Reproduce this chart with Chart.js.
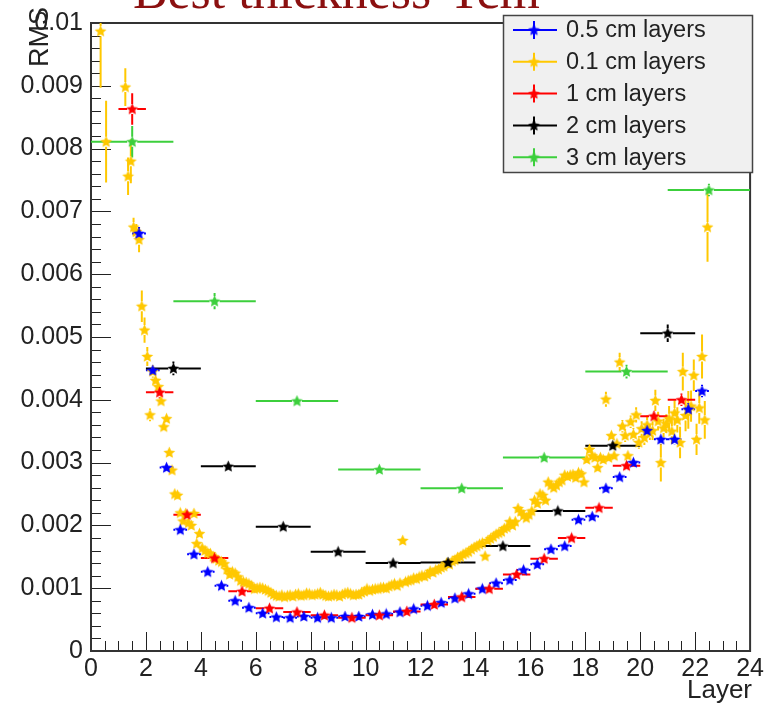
<!DOCTYPE html>
<html>
<head>
<meta charset="utf-8">
<script src="https://cdn.jsdelivr.net/npm/chart.js@4.4.0/dist/chart.umd.min.js"></script>
<style>
  body { margin: 0; background: #fff; }
</style>
</head>
<body>
<canvas id="chart" width="767" height="706"></canvas>
<script>
// RMS per layer, one graph per layer thickness (x = depth in cm)
const seriesNames = ['0.5 cm layers', '0.1 cm layers', '1 cm layers', '2 cm layers', '3 cm layers']
const seriesColors = ['#0000ff', '#ffc800', '#ff0000', '#000000', '#3ccf3c']
const layerHalfWidth = [0.25, 0.05, 0.5, 1, 1.5]

const blueX = [1.75, 2.25, 2.75, 3.25, 3.75, 4.25, 4.75, 5.25, 5.75, 6.25,
  6.75, 7.25, 7.75, 8.25, 8.75, 9.25, 9.75, 10.25, 10.75, 11.25,
  11.75, 12.25, 12.75, 13.25, 13.75, 14.25, 14.75, 15.25, 15.75, 16.25,
  16.75, 17.25, 17.75, 18.25, 18.75, 19.25, 19.75, 20.25, 20.75, 21.25,
  21.75, 22.25]
const blueY = [0.00665, 0.00447, 0.00292, 0.00193, 0.00154, 0.00126, 0.00104, 0.00080, 0.00069, 0.00060,
  0.00054, 0.00053, 0.00055, 0.00053, 0.00053, 0.00055, 0.00055, 0.00058, 0.00059, 0.00062,
  0.00067, 0.00072, 0.00077, 0.00084, 0.00091, 0.00099, 0.00108, 0.00113, 0.00129, 0.00138,
  0.00162, 0.00167, 0.00209, 0.00214, 0.00259, 0.00277, 0.00300, 0.00351, 0.00337, 0.00337,
  0.00385, 0.00414]
const blueErr = [0.0001, 0.00006, 0.00004, 0.00003, 0.00003, 0.00002, 0.00002, 0.00002, 0.00002, 0.00002,
  0.00002, 0.00002, 0.00002, 0.00002, 0.00002, 0.00002, 0.00002, 0.00002, 0.00002, 0.00002,
  0.00002, 0.00002, 0.00002, 0.00002, 0.00002, 0.00002, 0.00002, 0.00003, 0.00003, 0.00003,
  0.00003, 0.00003, 0.00004, 0.00004, 0.00005, 0.00005, 0.00006, 0.00008, 0.00008, 0.00008,
  0.0001, 0.0001]

const yellowX = [0.35, 0.55,
  1.25, 1.35, 1.45, 1.55, 1.65, 1.75, 1.85, 1.95, 2.05, 2.15,
  2.25, 2.35, 2.45, 2.55, 2.65, 2.75, 2.85, 2.95, 3.05, 3.15,
  3.25, 3.35, 3.45, 3.55, 3.65, 3.75, 3.85, 3.95, 4.05, 4.15,
  4.25, 4.35, 4.45, 4.55, 4.65, 4.75, 4.85, 4.95, 5.05, 5.15,
  5.25, 5.35, 5.45, 5.55, 5.65, 5.75, 5.85, 5.95, 6.05, 6.15,
  6.25, 6.35, 6.45, 6.55, 6.65, 6.75, 6.85, 6.95, 7.05, 7.15,
  7.25, 7.35, 7.45, 7.55, 7.65, 7.75, 7.85, 7.95, 8.05, 8.15,
  8.25, 8.35, 8.45, 8.55, 8.65, 8.75, 8.85, 8.95, 9.05, 9.15,
  9.25, 9.35, 9.45, 9.55, 9.65, 9.75, 9.85, 9.95, 10.05, 10.15,
  10.25, 10.35, 10.45, 10.55, 10.65, 10.75, 10.85, 10.95, 11.05, 11.15,
  11.25, 11.35, 11.45, 11.55, 11.65, 11.75, 11.85, 11.95, 12.05, 12.15,
  12.25, 12.35, 12.45, 12.55, 12.65, 12.75, 12.85, 12.95, 13.05, 13.15,
  13.25, 13.35, 13.45, 13.55, 13.65, 13.75, 13.85, 13.95, 14.05, 14.15,
  14.25, 14.35, 14.45, 14.55, 14.65, 14.75, 14.85, 14.95, 15.05, 15.15,
  15.25, 15.35, 15.45, 15.55, 15.65, 15.75, 15.85, 15.95, 16.05, 16.15,
  16.25, 16.35, 16.45, 16.55, 16.65, 16.75, 16.85, 16.95, 17.05, 17.15,
  17.25, 17.35, 17.45, 17.55, 17.65, 17.75, 17.85, 17.95, 18.05, 18.15,
  18.25, 18.35, 18.45, 18.55, 18.65, 18.75, 18.85, 18.95, 19.05, 19.15,
  19.25, 19.35, 19.45, 19.55, 19.65, 19.75, 19.85, 19.95, 20.05, 20.15,
  20.25, 20.35, 20.45, 20.55, 20.65, 20.75, 20.85, 20.95, 21.05, 21.15,
  21.25, 21.35, 21.45, 21.55, 21.65, 21.75, 21.85, 21.95, 22.05, 22.15,
  22.25, 22.35, 22.45]
const yellowY = [0.00987, 0.00811,
  0.00898, 0.00756, 0.00780, 0.00675, 0.00668, 0.00655, 0.00549, 0.00511, 0.00469, 0.00376,
  0.00445, 0.00431, 0.00421, 0.00398, 0.00357, 0.00370, 0.00316, 0.00288, 0.00250, 0.00248,
  0.00220, 0.00207, 0.00219, 0.00204, 0.00200, 0.00219, 0.00171, 0.00187, 0.00164, 0.00160,
  0.00156, 0.00155, 0.00150, 0.00147, 0.00144, 0.00142, 0.00139, 0.00130, 0.00122, 0.00126,
  0.00124, 0.00118, 0.00112, 0.00110, 0.00109, 0.00107, 0.00104, 0.00099, 0.00100, 0.00101,
  0.00100, 0.00098, 0.00096, 0.00093, 0.00090, 0.00088, 0.00087, 0.00089, 0.00086, 0.00088,
  0.00089, 0.00087, 0.00090, 0.00091, 0.00088, 0.00089, 0.00092, 0.00091, 0.00089, 0.00090,
  0.00091, 0.00093, 0.00090, 0.00088, 0.00087, 0.00088, 0.00090, 0.00089, 0.00087, 0.00090,
  0.00092, 0.00093, 0.00091, 0.00089, 0.00090, 0.00090, 0.00093, 0.00095, 0.00099, 0.00096,
  0.00098, 0.00099, 0.00099, 0.00101, 0.00101, 0.00100, 0.00103, 0.00105, 0.00107, 0.00104,
  0.00108, 0.00176, 0.00110, 0.00112, 0.00113, 0.00116, 0.00115, 0.00118, 0.00120, 0.00119,
  0.00122, 0.00127, 0.00125, 0.00129, 0.00130, 0.00133, 0.00135, 0.00140, 0.00138, 0.00143,
  0.00145, 0.00149, 0.00150, 0.00154, 0.00156, 0.00158, 0.00162, 0.00165, 0.00167, 0.00170,
  0.00172, 0.00151, 0.00176, 0.00179, 0.00182, 0.00186, 0.00188, 0.00190, 0.00195, 0.00197,
  0.00206, 0.00200, 0.00206, 0.00227, 0.00222, 0.00216, 0.00212, 0.00217, 0.00223, 0.00240,
  0.00235, 0.00250, 0.00248, 0.00240, 0.00269, 0.00264, 0.00260, 0.00264, 0.00269, 0.00272,
  0.00280, 0.00278, 0.00280, 0.00281, 0.00276, 0.00284, 0.00282, 0.00269, 0.00305, 0.00321,
  0.00311, 0.00308, 0.00292, 0.00308, 0.00305, 0.00401, 0.00308, 0.00343, 0.00311, 0.00330,
  0.00460, 0.00358, 0.00343, 0.00311, 0.00365, 0.00345, 0.00376, 0.00332, 0.00354, 0.00340,
  0.00360, 0.00348, 0.00351, 0.00399, 0.00366, 0.00300, 0.00355, 0.00362, 0.00370, 0.00350,
  0.00379, 0.00368, 0.00332, 0.00445, 0.00375, 0.00384, 0.00390, 0.00439, 0.00337, 0.00387,
  0.00469, 0.00368, 0.00675]
const yellowErr = [0.0009, 0.00065,
  0.0003, 0.0003, 0.00035, 0.00015, 0.00012, 0.0002, 0.00025, 0.0002, 0.00015, 0.0001,
  0.0001, 0.00008, 0.00008, 0.00008, 0.00006, 0.00006, 0.00005, 0.00005, 0.00004, 0.00004,
  0.00004, 0.00003, 0.00003, 0.00003, 0.00003, 0.00003, 0.00003, 0.00003, 0.00003, 0.00003,
  0.00002, 0.00002, 0.00002, 0.00002, 0.00002, 0.00002, 0.00002, 0.00002, 0.00002, 0.00002,
  0.00002, 0.00002, 0.00002, 0.00002, 0.00002, 0.00002, 0.00002, 0.00002, 0.00002, 0.00002,
  0.00002, 0.00002, 0.00002, 0.00002, 0.00002, 0.00002, 0.00002, 0.00002, 0.00002, 0.00002,
  0.00002, 0.00002, 0.00002, 0.00002, 0.00002, 0.00002, 0.00002, 0.00002, 0.00002, 0.00002,
  0.00002, 0.00002, 0.00002, 0.00002, 0.00002, 0.00002, 0.00002, 0.00002, 0.00002, 0.00002,
  0.00002, 0.00002, 0.00002, 0.00002, 0.00002, 0.00002, 0.00002, 0.00002, 0.00002, 0.00002,
  0.00002, 0.00002, 0.00002, 0.00002, 0.00002, 0.00002, 0.00002, 0.00002, 0.00002, 0.00002,
  0.00002, 0.00004, 0.00002, 0.00002, 0.00002, 0.00002, 0.00002, 0.00002, 0.00002, 0.00002,
  0.00002, 0.00002, 0.00002, 0.00002, 0.00002, 0.00002, 0.00002, 0.00002, 0.00002, 0.00002,
  0.00002, 0.00002, 0.00002, 0.00002, 0.00002, 0.00002, 0.00002, 0.00002, 0.00002, 0.00002,
  0.00002, 0.00003, 0.00002, 0.00002, 0.00002, 0.00002, 0.00002, 0.00002, 0.00002, 0.00002,
  0.00002, 0.00002, 0.00002, 0.00002, 0.00002, 0.00002, 0.00002, 0.00002, 0.00002, 0.00002,
  0.00002, 0.00002, 0.00002, 0.00002, 0.00002, 0.00002, 0.00002, 0.00002, 0.00002, 0.00002,
  0.00002, 0.00002, 0.00002, 0.00002, 0.00002, 0.00002, 0.00002, 0.00002, 0.00005, 0.00006,
  0.00005, 0.00005, 0.00006, 0.00005, 0.00006, 0.00012, 0.00006, 0.00008, 0.00006, 0.00008,
  0.00015, 0.0001, 0.0001, 0.00008, 0.0001, 0.0001, 0.00012, 0.0001, 0.00012, 0.00012,
  0.00015, 0.00012, 0.00015, 0.00017, 0.00015, 0.0003, 0.00015, 0.00015, 0.0002, 0.0002,
  0.0002, 0.0002, 0.00025, 0.0003, 0.00025, 0.0003, 0.00025, 0.00025, 0.00025, 0.00025,
  0.00035, 0.0003, 0.00055]

const redX = [1.5, 2.5, 3.5, 4.5, 5.5, 6.5, 7.5, 8.5, 9.5, 10.5,
  11.5, 12.5, 13.5, 14.5, 15.5, 16.5, 17.5, 18.5, 19.5, 20.5, 21.5]
const redY = [0.00863, 0.00412, 0.00217, 0.00148, 0.00095, 0.00068, 0.00062, 0.00057, 0.00053, 0.00057,
  0.00063, 0.00074, 0.00086, 0.00099, 0.00122, 0.00147, 0.00180, 0.00228, 0.00295, 0.00374, 0.00400]
const redErr = [0.00025, 0.0001, 0.00005, 0.00003, 0.00002, 0.00002, 0.00002, 0.00002, 0.00002, 0.00002,
  0.00002, 0.00002, 0.00002, 0.00002, 0.00003, 0.00003, 0.00004, 0.00004, 0.00005, 0.00008, 0.0001]

const blackX = [3, 5, 7, 9, 11, 13, 15, 17, 19, 21]
const blackY = [0.00450, 0.00294, 0.00198, 0.00158, 0.00140, 0.00141, 0.00167, 0.00223, 0.00327, 0.00506]
const blackErr = [0.00011, 0.00004, 0.00003, 0.00002, 0.00002, 0.00002, 0.00003, 0.00004, 0.00006, 0.00014]

const greenX = [1.5, 4.5, 7.5, 10.5, 13.5, 16.5, 19.5, 22.5]
const greenY = [0.00811, 0.00557, 0.00398, 0.00289, 0.00259, 0.00308, 0.00445, 0.00734]
const greenErr = [0.00025, 0.00013, 0.00005, 0.00004, 0.00004, 0.00005, 0.00011, 0.0001]

const xTickLabels = ['0', '2', '4', '6', '8', '10', '12', '14', '16', '18', '20', '22', '24']
const yTickLabels = ['0', '0.001', '0.002', '0.003', '0.004', '0.005', '0.006', '0.007', '0.008', '0.009', '0.01']

const GAP = 5
const FONT = "'Liberation Sans', Arial, sans-serif"

// ROOT style full star marker
function starImage(color) {
  const c = document.createElement('canvas')
  c.width = 13
  c.height = 13
  const ctx = c.getContext('2d')
  ctx.fillStyle = color
  ctx.beginPath()
  for (let i = 0; i < 10; i++) {
    const r = i % 2 === 0 ? 6.2 : 2.9
    const a = -Math.PI / 2 + i * Math.PI / 5
    ctx.lineTo(6.5 + r * Math.cos(a), 6.8 + r * Math.sin(a))
  }
  ctx.closePath()
  ctx.fill()
  return c
}

function makeSet(i, xs, ys, errs, order) {
  return {
    label: seriesNames[i],
    data: xs.map((x, k) => ({ x, y: ys[k], err: errs[k] })),
    borderColor: seriesColors[i],
    backgroundColor: seriesColors[i],
    pointStyle: starImage(seriesColors[i]),
    pointRadius: 6,
    showLine: false,
    xErr: layerHalfWidth[i],
    order
  }
}

const datasets = [
  makeSet(0, blueX, blueY, blueErr, 3),
  makeSet(1, yellowX, yellowY, yellowErr, 4),
  makeSet(2, redX, redY, redErr, 2),
  makeSet(3, blackX, blackY, blackErr, 1),
  makeSet(4, greenX, greenY, greenErr, 0)
]

const frameAndTicks = {
  id: 'frameAndTicks',
  beforeDatasetsDraw(chart) {
    const { ctx, chartArea: a, scales: { x, y } } = chart
    ctx.save()
    ctx.strokeStyle = '#222'
    ctx.lineWidth = 1
    ctx.beginPath()
    for (let i = 0; i <= 48; i++) {
      const px = Math.round(x.getPixelForValue(i * 0.5)) + 0.5
      const len = i % 4 === 0 ? 19 : 10
      ctx.moveTo(px, a.bottom)
      ctx.lineTo(px, a.bottom - len)
    }
    for (let i = 0; i <= 50; i++) {
      const py = Math.round(y.getPixelForValue(i * 0.0002)) + 0.5
      const len = i % 5 === 0 ? 20 : 10
      ctx.moveTo(a.left, py)
      ctx.lineTo(a.left + len, py)
    }
    ctx.stroke()
    ctx.strokeStyle = '#333'
    ctx.lineWidth = 2
    ctx.strokeRect(a.left, a.top, a.right - a.left, a.bottom - a.top)
    ctx.restore()
  }
}

const errorBars = {
  id: 'errorBars',
  beforeDatasetsDraw(chart) {
    const { ctx, chartArea: a, scales: { x, y } } = chart
    ctx.save()
    ctx.beginPath()
    ctx.rect(a.left, a.top, a.right - a.left, a.bottom - a.top)
    ctx.clip()
    ctx.lineWidth = 2
    const sets = chart.data.datasets.slice().sort((p, q) => q.order - p.order)
    sets.forEach(ds => {
      ctx.strokeStyle = ds.borderColor
      ctx.beginPath()
      ds.data.forEach(p => {
        const px = x.getPixelForValue(p.x)
        const py = y.getPixelForValue(p.y)
        const x0 = x.getPixelForValue(p.x - ds.xErr)
        const x1 = x.getPixelForValue(p.x + ds.xErr)
        const y0 = y.getPixelForValue(p.y + p.err)
        const y1 = y.getPixelForValue(p.y - p.err)
        if (px - x0 > GAP) {
          ctx.moveTo(x0, py); ctx.lineTo(px - GAP, py)
          ctx.moveTo(px + GAP, py); ctx.lineTo(x1, py)
        }
        if (py - y0 > GAP) {
          ctx.moveTo(px, y0); ctx.lineTo(px, py - GAP)
          ctx.moveTo(px, py + GAP); ctx.lineTo(px, y1)
        }
      })
      ctx.stroke()
    })
    ctx.restore()
  }
}

const legendAndTitles = {
  id: 'legendAndTitles',
  afterDraw(chart) {
    const { ctx } = chart
    ctx.save()
    // legend box
    ctx.fillStyle = '#f0f0f0'
    ctx.fillRect(503, 15, 250, 158)
    ctx.strokeStyle = '#444'
    ctx.lineWidth = 1.5
    ctx.strokeRect(503.5, 15.5, 249, 157)
    chart.data.datasets.forEach((ds, i) => {
      const cy = 30 + i * 31.8
      ctx.strokeStyle = ds.borderColor
      ctx.lineWidth = 2
      ctx.beginPath()
      ctx.moveTo(513, cy); ctx.lineTo(557, cy)
      ctx.moveTo(534, cy - 9); ctx.lineTo(534, cy + 9)
      ctx.stroke()
      ctx.drawImage(ds.pointStyle, 534 - 6.5, cy - 6.5)
      ctx.fillStyle = '#222'
      ctx.font = '23.5px ' + FONT
      ctx.textAlign = 'left'
      ctx.textBaseline = 'middle'
      ctx.fillText(ds.label, 566, cy + 1)
    })
    // title, mostly above the top edge
    ctx.fillStyle = '#8b1010'
    ctx.font = "46px 'Liberation Serif', serif"
    const w = ctx.measureText('Best thickness-Tcm').width
    const size = 46 * 407 / w
    ctx.font = size + "px 'Liberation Serif', serif"
    ctx.textAlign = 'left'
    ctx.textBaseline = 'alphabetic'
    ctx.fillText('Best thickness-Tcm', 133, 8)
    // axis titles
    ctx.fillStyle = '#222'
    ctx.font = '26px ' + FONT
    ctx.textAlign = 'right'
    ctx.textBaseline = 'middle'
    ctx.fillText('Layer', 752, 691)
    ctx.font = '27px ' + FONT
    ctx.translate(41, 7)
    ctx.rotate(-Math.PI / 2)
    ctx.fillText('RMS', 0, 0)
    ctx.restore()
  }
}

Chart.defaults.font.family = FONT
Chart.defaults.color = '#222'

new Chart(document.getElementById('chart'), {
  type: 'scatter',
  data: { datasets },
  options: {
    responsive: false,
    animation: false,
    layout: { autoPadding: false, padding: { top: 15, right: 14, left: 0, bottom: 0 } },
    plugins: { legend: { display: false }, tooltip: { enabled: false } },
    scales: {
      x: {
        type: 'linear',
        min: 0,
        max: 24,
        afterFit(scale) { scale.height = 55 },
        grid: { display: false, drawTicks: false },
        border: { display: false },
        ticks: {
          stepSize: 2,
          padding: 3,
          maxRotation: 0,
          font: { size: 25 },
          callback: (v, i) => xTickLabels[i]
        }
      },
      y: {
        type: 'linear',
        min: 0,
        max: 0.01,
        afterFit(scale) { scale.width = 91 },
        grid: { display: false, drawTicks: false },
        border: { display: false },
        ticks: {
          stepSize: 0.001,
          padding: 8,
          font: { size: 25 },
          callback: (v, i) => yTickLabels[i]
        }
      }
    }
  },
  plugins: [frameAndTicks, errorBars, legendAndTitles]
})
</script>
</body>
</html>
